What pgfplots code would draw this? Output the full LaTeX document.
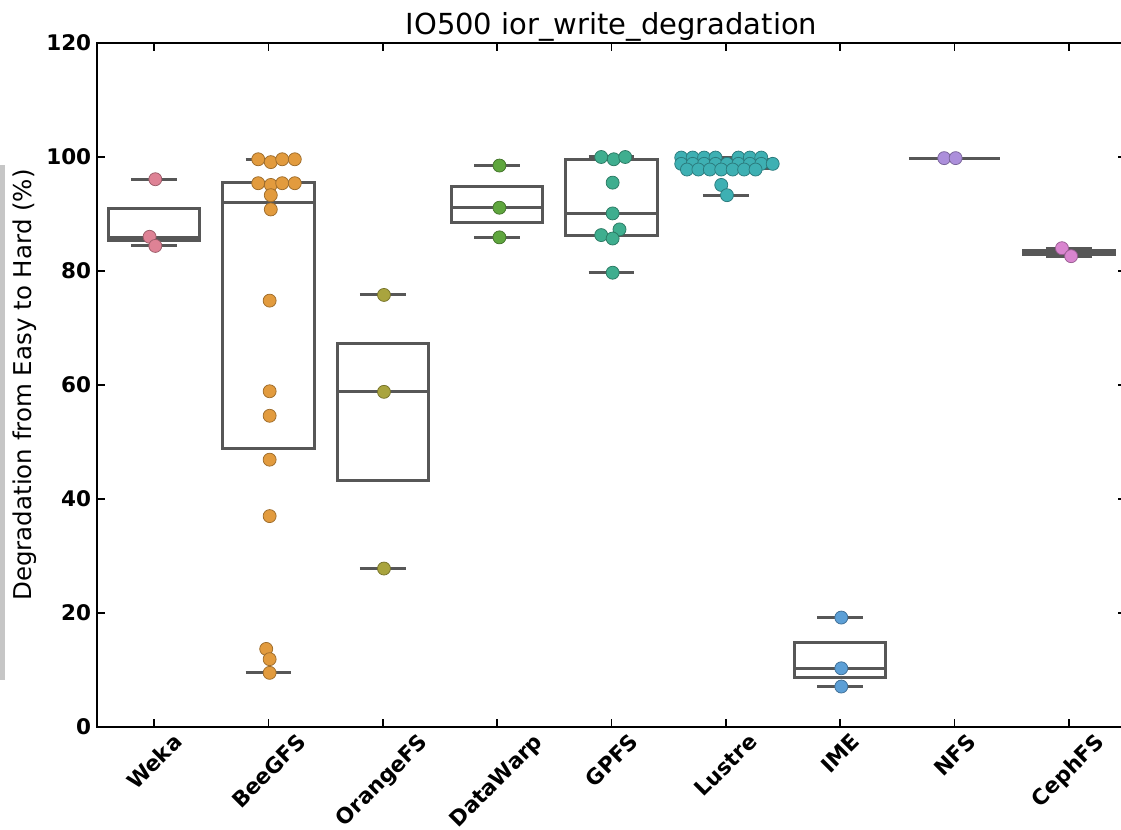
\documentclass[border=0pt]{standalone}
\usepackage{fontspec}
\setmainfont{DejaVu Sans}
\usepackage{graphicx}
\usepackage{pgfplots}
\pgfplotsset{compat=1.18}

\definecolor{boxgray}{HTML}{575757}
\definecolor{cWeka}{HTML}{DE8295}
\definecolor{cBee}{HTML}{E29B3E}
\definecolor{cOrange}{HTML}{A9A43E}
\definecolor{cData}{HTML}{5FA63E}
\definecolor{cGPFS}{HTML}{3FAE8F}
\definecolor{cLustre}{HTML}{3EB0B3}
\definecolor{cIME}{HTML}{5C9FD6}
\definecolor{cNFS}{HTML}{AC8FDB}
\definecolor{cCeph}{HTML}{D985CF}

\pgfplotsset{
  boxline/.style={draw=boxgray, line width=1.2pt, line join=miter, mark=none, unbounded coords=jump},
  pts/.style={only marks, mark=*, mark size=2.6pt,
    mark options={fill=#1, draw=#1!70!black, line width=0.3pt}},
}

\begin{document}
\begin{tikzpicture}
\begin{axis}[
  scale only axis, width=411.6pt, height=273.6pt,
  xmin=-0.5, xmax=8.5, ymin=0, ymax=120,
  xtick={0,...,8},
  xticklabels={\rotatebox{45}{Weka},\rotatebox{45}{BeeGFS},\rotatebox{45}{OrangeFS},
    \rotatebox{45}{DataWarp},\rotatebox{45}{GPFS},\rotatebox{45}{Lustre},
    \rotatebox{45}{IME},\rotatebox{45}{NFS},\rotatebox{45}{CephFS}},
  ytick={0,20,...,120},
  tick align=inside, tick pos=both,
  xticklabel pos=lower, yticklabel pos=left,
  major tick length=3.2pt,
  every tick/.style={black, line width=0.6pt},
  axis line style={black, line width=0.8pt},
  tick label style={font=\fontsize{8.6}{10}\selectfont\bfseries},
  /pgf/number format/assume math mode=true,
  xticklabel style={anchor=north, yshift=1.5pt},
  yticklabel style={xshift=1.2pt},
  title={IO500 ior\_write\_degradation},
  every axis title shift=0pt,
  title style={font=\fontsize{11.6}{14}\selectfont, at={(axis description cs:0.5,1)}, anchor=base, yshift=3.4pt},
  ylabel={Degradation from Easy to Hard (\%)},
  ylabel style={font=\fontsize{9.8}{12}\selectfont, at={(axis description cs:-0.0705,0.5)}, anchor=center},
]
% boxes: box (q1..q3, width 0.8), median, caps at whiskers (width 0.4)
\addplot[boxline] coordinates {(0,85.3) (0.4,85.3) (0.4,91.0) (-0.4,91.0) (-0.4,85.3) (0,85.3) (0,nan)
  (-0.4,85.9) (0.4,85.9) (0,nan) (-0.2,84.4) (0.2,84.4) (0,nan) (-0.2,96.1) (0.2,96.1)};
\addplot[boxline] coordinates {(1,48.9) (1.4,48.9) (1.4,95.5) (0.6,95.5) (0.6,48.9) (1,48.9) (1,nan)
  (0.6,92.1) (1.4,92.1) (1,nan) (0.8,9.5) (1.2,9.5) (1,nan) (0.8,99.6) (1.2,99.6)};
\addplot[boxline] coordinates {(2,43.3) (2.4,43.3) (2.4,67.2) (1.6,67.2) (1.6,43.3) (2,43.3) (2,nan)
  (1.6,58.8) (2.4,58.8) (2,nan) (1.8,27.8) (2.2,27.8) (2,nan) (1.8,75.8) (2.2,75.8)};
\addplot[boxline] coordinates {(3,88.5) (3.4,88.5) (3.4,94.8) (2.6,94.8) (2.6,88.5) (3,88.5) (3,nan)
  (2.6,91.1) (3.4,91.1) (3,nan) (2.8,85.9) (3.2,85.9) (3,nan) (2.8,98.5) (3.2,98.5)};
\addplot[boxline] coordinates {(4,86.2) (4.4,86.2) (4.4,99.6) (3.6,99.6) (3.6,86.2) (4,86.2) (4,nan)
  (3.6,90.1) (4.4,90.1) (4,nan) (3.8,79.7) (4.2,79.7) (4,nan) (3.8,100.0) (4.2,100.0)};
\addplot[boxline] coordinates {(5,98.0) (5.4,98.0) (5.4,99.5) (4.6,99.5) (4.6,98.0) (5,98.0) (5,nan)
  (4.6,98.8) (5.4,98.8) (5,nan) (4.8,93.3) (5.2,93.3) (5,nan) (4.8,99.9) (5.2,99.9)};
\addplot[boxline] coordinates {(6,8.7) (6.4,8.7) (6.4,14.9) (5.6,14.9) (5.6,8.7) (6,8.7) (6,nan)
  (5.6,10.3) (6.4,10.3) (6,nan) (5.8,7.1) (6.2,7.1) (6,nan) (5.8,19.2) (6.2,19.2)};
\addplot[boxline] coordinates {(6.6,99.8) (7.4,99.8)};
\addplot[boxline] coordinates {(8,82.95) (8.4,82.95) (8.4,83.65) (7.6,83.65) (7.6,82.95) (8,82.95) (8,nan)
  (7.6,83.3) (8.4,83.3) (8,nan) (7.8,82.6) (8.2,82.6) (8,nan) (7.8,84.0) (8.2,84.0)};

% points
\addplot[pts=cWeka] coordinates {(0.01,96.1) (-0.04,86.0) (0.01,84.4)};
\addplot[pts=cBee] coordinates {
  (0.91,99.6) (1.02,99.1) (1.12,99.6) (1.23,99.6)
  (0.91,95.4) (1.02,95.1) (1.12,95.4) (1.23,95.4)
  (1.02,93.3) (1.02,90.8) (1.01,74.8) (1.01,58.9) (1.01,54.6)
  (1.01,46.9) (1.01,37.0) (0.98,13.7) (1.01,11.9) (1.01,9.5)};
\addplot[pts=cOrange] coordinates {(2.01,75.8) (2.01,58.8) (2.01,27.8)};
\addplot[pts=cData] coordinates {(3.02,98.5) (3.02,91.1) (3.02,85.9)};
\addplot[pts=cGPFS] coordinates {
  (3.91,100.0) (4.02,99.6) (4.12,100.0) (4.01,95.5) (4.01,90.1)
  (4.07,87.3) (3.91,86.3) (4.01,85.7) (4.01,79.7)};
\addplot[pts=cLustre] coordinates {
  (4.61,99.9) (4.71,99.9) (4.81,99.9) (4.91,99.9) (5.11,99.9) (5.21,99.9) (5.31,99.9)
  (4.61,98.8) (4.71,98.8) (4.81,98.8) (4.91,98.8) (5.01,98.8) (5.11,98.8) (5.21,98.8) (5.31,98.8) (5.41,98.8)
  (4.66,97.8) (4.76,97.8) (4.86,97.8) (4.96,97.8) (5.06,97.8) (5.16,97.8) (5.26,97.8)
  (4.96,95.1) (5.01,93.3)};
\addplot[pts=cIME] coordinates {(6.01,19.2) (6.01,10.3) (6.01,7.1)};
\addplot[pts=cNFS] coordinates {(6.91,99.8) (7.01,99.8)};
\addplot[pts=cCeph] coordinates {(7.94,84.0) (8.02,82.6)};
% Lustre box drawn again over its dense swarm, as in the reference
\addplot[boxline] coordinates {(5,98.0) (5.4,98.0) (5.4,99.5) (4.6,99.5) (4.6,98.0) (5,98.0) (5,nan)
  (4.6,98.8) (5.4,98.8)};
\end{axis}
\fill[gray!45] (-38.8pt,18.8pt) rectangle (-36.8pt,224.8pt);
\pgfresetboundingbox
\useasboundingbox (-38.8pt,-40.8pt) rectangle (409.6pt,290.8pt);
\end{tikzpicture}
\end{document}
